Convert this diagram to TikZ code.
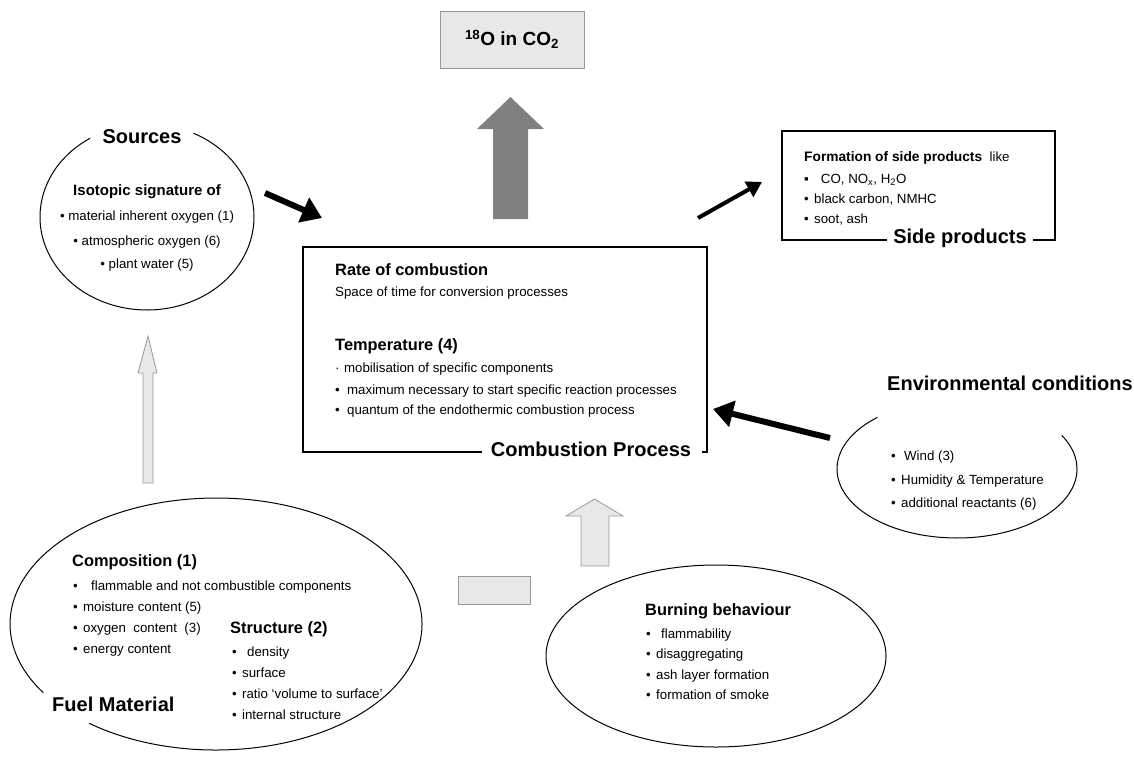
\documentclass[tikz,border=0pt]{standalone}
\usepackage{fontspec}
\setmainfont{Liberation Sans}
\usetikzlibrary{arrows.meta}
\definecolor{lightfill}{HTML}{E8E8E8}
\definecolor{lightline}{HTML}{999999}
\definecolor{darkfill}{HTML}{808080}
\newcommand\blt[2][5.3pt]{•\hspace{#1}#2}
\begin{document}
\begin{tikzpicture}[x=1pt,y=1pt,
  txt/.style={anchor=west, inner sep=0pt, text height=0.75em, text depth=0.15em, font=\fontsize{13.3}{16}\selectfont},
  ctxt/.style={txt, anchor=center},
  head/.style={txt, font=\fontsize{16.4}{19}\selectfont\bfseries},
  biglabel/.style={anchor=center, inner sep=0pt, text height=0.75em, text depth=0.15em, font=\fontsize{20}{24}\selectfont\bfseries},
  outline/.style={draw=black, line width=1pt},
  boxline/.style={draw=black, line width=1.2pt},
  lightarrow/.style={fill=lightfill, draw=lightline, line width=0.8pt},
  blackarrow/.style={draw=black, line width=6pt, -{Triangle[length=20pt,width=26pt]}},
  thinarrow/.style={draw=black, line width=4pt, -{Triangle[length=15pt,width=17pt]}},
]
\useasboundingbox (0,0) rectangle (1134,-761);

% ---- top result box
\node[draw=lightline, fill=lightfill, line width=1pt, minimum width=144pt, minimum height=57pt, inner sep=0pt,
      font=\fontsize{19}{22}\selectfont\bfseries] (result) at (512,-39.5) {\textsuperscript{18}O in CO\textsubscript{2}};

% ---- big dark arrow
\coordinate (darkbase) at (510.5,-219);
\fill[darkfill] (493,-219) -- (493,-129) -- (477,-129) -- (510.5,-97) -- (544,-129) -- (528,-129) -- (528,-219) -- cycle;

% ---- Sources ellipse
\coordinate (srcC) at (147,-217);
\draw[outline] (srcC) ++(122.1:107 and 93) arc[start angle=122.1, end angle=424.3, x radius=107, y radius=93];
\node[biglabel] (srclabel) at (142,-140) {Sources};
\node[ctxt, font=\fontsize{15}{18}\selectfont\bfseries] (iso) at (147,-192) {Isotopic signature of};
\node[ctxt] (s1) at (147,-217) {• material inherent oxygen (1)};
\node[ctxt] (s2) at (147,-242) {• atmospheric oxygen (6)};
\node[ctxt] (s3) at (147,-265) {• plant water (5)};

% ---- Combustion box
\draw[boxline] (482,-452) -- (303,-452) -- (303,-247) -- (707,-247) -- (707,-452) -- (702,-452);
\node[biglabel] (comblabel) at (591,-453) {Combustion Process};
\node[head] (rate) at (335,-272) {Rate of combustion};
\node[txt] (space) at (335,-293) {Space of time for conversion processes};
\node[head] (temp) at (335,-347) {Temperature (4)};
\node[txt] (t1) at (335,-369) {·\hspace{4.5pt}mobilisation of specific components};
\node[txt] (t2) at (335,-391) {\blt[7.3pt]{maximum necessary to start specific reaction processes}};
\node[txt] (t3) at (335,-411) {\blt[7.3pt]{quantum of the endothermic combustion process}};

% ---- Side products box
\draw[boxline] (887,-240) -- (782,-240) -- (782,-131) -- (1055,-131) -- (1055,-240) -- (1033,-240);
\node[biglabel] (sidelabel) at (960,-240) {Side products};
\node[txt] (form) at (804,-158) {\fontsize{13.75}{16}\selectfont\bfseries Formation of side products\mdseries\fontsize{13.3}{16}\selectfont\ \ like};
\node[txt] (p1) at (804,-180) {▪\hspace{12pt}CO, NO\textsubscript{x}, H\textsubscript{2}O};
\node[txt] (p2) at (804,-200) {\blt{black carbon, NMHC}};
\node[txt] (p3) at (804,-220) {\blt{soot, ash}};

% ---- Environmental conditions
\coordinate (envC) at (957,-469);
\draw[outline] (envC) ++(131.5:120 and 69) arc[start angle=131.5, end angle=389.2, x radius=120, y radius=69];
\node[biglabel, anchor=west] (envlabel) at (887,-387) {Environmental conditions};
\node[txt] (e1) at (891,-457) {\blt[8.3pt]{Wind (3)}};
\node[txt] (e2) at (891,-481) {\blt{Humidity \& Temperature}};
\node[txt] (e3) at (891,-504) {\blt{additional reactants (6)}};

% ---- Burning behaviour
\coordinate (burnC) at (716,-656);
\draw[outline] (burnC) ellipse [x radius=170, y radius=91];
\node[head] (burn) at (645,-612) {Burning behaviour};
\node[txt] (b1) at (646,-635) {\blt[10.3pt]{flammability}};
\node[txt] (b2) at (646,-655) {\blt{disaggregating}};
\node[txt] (b3) at (646,-676) {\blt{ash layer formation}};
\node[txt] (b4) at (646,-696) {\blt{formation of smoke}};

% ---- Fuel material
\coordinate (fuelC) at (216,-624);
\draw[outline] (fuelC) ++(232:206 and 126) arc[start angle=232, end angle=573, x radius=206, y radius=126];
\node[biglabel, anchor=west] (fuellabel) at (52,-708) {Fuel Material};
\node[head] (comp) at (72,-563) {Composition (1)};
\node[txt] (c1) at (73,-587) {\blt[13.3pt]{flammable and not combustible components}};
\node[txt] (c2) at (73,-608) {\blt{moisture content (5)}};
\node[txt] (c3) at (73,-629) {\blt{oxygen\ \ content\ \ (3)}};
\node[txt] (c4) at (73,-650) {\blt{energy content}};
\node[head] (struct) at (230,-630) {Structure (2)};
\node[txt] (r1) at (232,-653) {\blt[10.3pt]{density}};
\node[txt] (r2) at (232,-674) {\blt{surface}};
\node[txt] (r3) at (232,-695) {\blt{ratio ‘volume to surface’}};
\node[txt] (r4) at (232,-716) {\blt{internal structure}};

% ---- light block arrows
\filldraw[lightarrow] (143,-483) -- (143,-373) -- (138,-373) -- (148,-336) -- (157,-373) -- (153,-373) -- (153,-483) -- cycle;
\filldraw[lightarrow] (581,-566) -- (581,-516) -- (566,-516) -- (594.5,-499) -- (623,-516) -- (609,-516) -- (609,-566) -- cycle;
\filldraw[lightarrow] (458,-576) rectangle (530,-604);

% ---- black arrows
\coordinate (srcTail) at (265,-193);
\coordinate (srcTip) at (322,-218);
\draw[blackarrow] (srcTail) -- (srcTip);
\coordinate (envTail) at (830,-438);
\coordinate (envTip) at (713,-409);
\draw[blackarrow] (envTail) -- (envTip);
\coordinate (sideTail) at (698,-218);
\coordinate (sideTip) at (762,-182);
\draw[thinarrow] (sideTail) -- (sideTip);
\end{tikzpicture}
\end{document}
